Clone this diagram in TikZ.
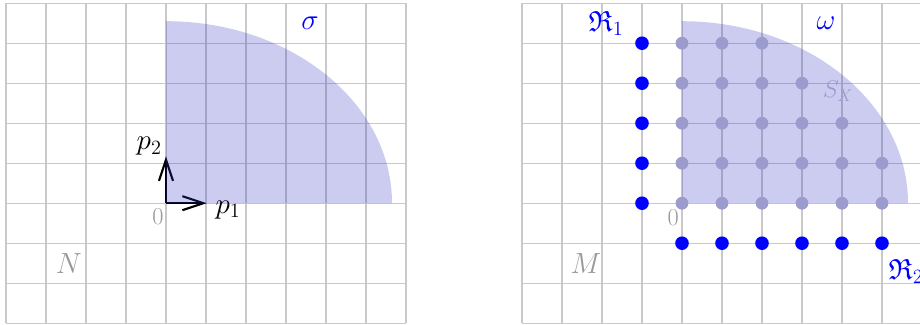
\documentclass[tikz,border=0pt]{standalone}
\usepackage{amssymb}
\usetikzlibrary{arrows.meta}

\definecolor{conefill}{RGB}{50,50,200}
\definecolor{latgray}{RGB}{155,155,205}

\tikzset{
  gridline/.style={draw=gray!42,line width=1pt},
  cone/.style={fill=conefill,fill opacity=0.25},
  vecline/.style={line width=1.5pt,-{Straight Barb[length=15pt,width=10pt]}},
  graylabel/.style={text=gray!80},
  bluelabel/.style={text=blue}
}

\begin{document}
\begin{tikzpicture}[x=1cm,y=1cm]
\useasboundingbox (-4.15,-3.02) rectangle (18.85,5.08);

% left picture: the cone sigma in N
\draw[gridline] (-4,-3) grid (6,5);
\coordinate (O) at (0,0);
\coordinate (e1) at (1.02,0);
\coordinate (e2) at (0,1.17);
\draw[vecline] (O) -- (e1);
\draw[vecline] (O) -- (e2);
\fill[cone] (O) -- (5.65,0) arc[start angle=0,end angle=90,x radius=5.65,y radius=4.55] -- cycle;
\node[graylabel] (zeroN) at (-0.2,-0.33) {\LARGE $0$};
\node (p1) at (1.55,-0.17) {\huge $p_1$};
\node (p2) at (-0.42,1.42) {\huge $p_2$};
\node[bluelabel] (sigma) at (3.6,4.5) {\huge $\sigma$};
\node[graylabel] (N) at (-2.43,-1.5) {\huge $N$};

% right picture: the dual cone omega in M
\begin{scope}[xshift=12.9cm]
\draw[gridline] (-4,-3) grid (6,5);
\coordinate (O') at (0,0);
\fill[cone] (O') -- (5.65,0) arc[start angle=0,end angle=90,x radius=5.65,y radius=4.55] -- cycle;
% lattice points of S_X
\foreach \x in {0,...,5} \fill[latgray] (\x,0) circle (0.16);
\foreach \x in {0,...,5} \fill[latgray] (\x,1) circle (0.16);
\foreach \x in {0,...,4} \fill[latgray] (\x,2) circle (0.16);
\foreach \x in {0,...,3} \fill[latgray] (\x,3) circle (0.16);
\foreach \x in {0,...,2} \fill[latgray] (\x,4) circle (0.16);
% the two rays R_1 and R_2
\foreach \y in {0,...,4} \fill[blue] (-1,\y) circle (0.17);
\foreach \x in {0,...,5} \fill[blue] (\x,-1) circle (0.17);
\node[graylabel] (zeroM) at (-0.22,-0.35) {\LARGE $0$};
\node[text=latgray] (SX) at (3.9,2.8) {\LARGE $S_X$};
\node[bluelabel] (omega) at (3.6,4.5) {\huge $\omega$};
\node[bluelabel] (R1) at (-1.9,4.5) {\huge $\mathfrak{R}_1$};
\node[bluelabel] (R2) at (5.6,-1.7) {\huge $\mathfrak{R}_2$};
\node[graylabel] (M) at (-2.4,-1.5) {\huge $M$};
\end{scope}
\end{tikzpicture}
\end{document}
